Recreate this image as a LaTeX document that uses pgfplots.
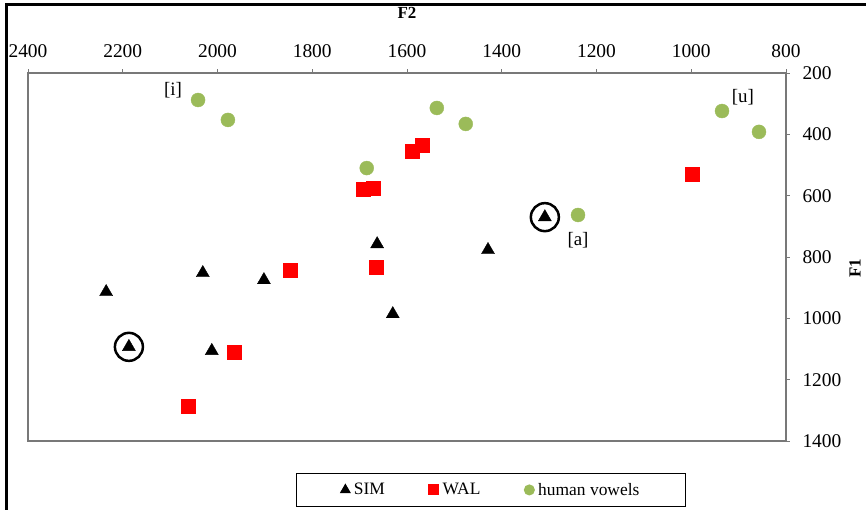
\documentclass[border=0pt]{standalone}
\usepackage{fontspec}
\setmainfont{Liberation Serif}
\usepackage{pgfplots}
\pgfplotsset{compat=1.18}
\definecolor{hgreen}{RGB}{155,187,89}
\definecolor{axgray}{RGB}{120,120,120}
\pgfplotsset{lgimg/.style={legend image code/.code={\draw[mark repeat=2,mark phase=2,##1,mark options={scale=0.7}] plot coordinates {(0bp,0bp) (4bp,0bp) (8bp,0bp)};}}}
\begin{document}
\begin{tikzpicture}
\path[use as bounding box] (0,0) rectangle (866bp,510bp);
\draw[line width=3bp] (6bp,-5bp) -- (6bp,505bp) -- (880bp,505bp);
\begin{axis}[
 at={(28bp,69bp)}, anchor=south west,
 scale only axis, width=758bp, height=368bp,
 xmin=800, xmax=2400, ymin=200, ymax=1400,
 x dir=reverse, y dir=reverse,
 xtick={800,1000,...,2400}, ytick={200,400,...,1400},
 xtick pos=right, xticklabel pos=right,
 ytick pos=right, yticklabel pos=right,
 tick align=outside, major tick length=4bp,
 axis line style={axgray, line width=1.2bp},
 tick style={axgray, line width=0.8bp},
 /pgf/number format/assume math mode=true,
 /pgf/number format/1000 sep={},
 ticklabel style={font=\fontsize{19.5}{19.5}\selectfont},
 xticklabel style={yshift=8bp},
 yticklabel style={xshift=9bp},
 xlabel={\textbf{F2}}, ylabel={\textbf{F1}},
 label style={font=\fontsize{17}{17}\selectfont},
 xlabel style={at={(axis description cs:0.5,1.163)}, anchor=center},
 ylabel style={at={(axis description cs:1.091,0.47)}, anchor=center},
 legend columns=3,
 legend cell align=left,
 legend style={at={(axis description cs:0.611,-0.133)}, anchor=center, draw=black, line width=1.2bp,
   font=\fontsize{17.5}{18}\selectfont, inner xsep=44bp, inner ysep=8bp,
   /tikz/every even column/.append style={column sep=42bp},
   /tikz/every odd column/.append style={column sep=2bp}},
]
\addplot[only marks, mark=triangle*, mark size=7.5bp, black, lgimg] coordinates {
(2235,914) (2031,852) (1902,875) (1663,758) (1630,986) (1429,777) (2012,1106) (2187,1093) (1309,670)};
\addlegendentry{SIM}
\addplot[only marks, mark=square*, mark size=7bp, red, draw=red, fill=red, lgimg] coordinates {
(1847,842) (1965,1110) (2062,1286) (1568,435) (1590,454) (1693,578) (1672,575) (1666,833) (999,529)};
\addlegendentry{WAL}
\addplot[only marks, mark=*, mark size=7bp, hgreen, draw=hgreen, fill=hgreen, lgimg] coordinates {
(2041,288) (1978,353) (1537,314) (1476,366) (1685,510) (1239,663) (935,324) (857,392)};
\addlegendentry{human vowels}
\addplot[only marks, mark=o, mark size=14bp, black, mark options={line width=2.5bp}, forget plot] coordinates {
(2187,1093) (1309,670)};
\node[font=\fontsize{19}{19}\selectfont] at (axis cs:2094,256) {[i]};
\node[font=\fontsize{19}{19}\selectfont] at (axis cs:891,278) {[u]};
\node[font=\fontsize{19}{19}\selectfont] at (axis cs:1239,746) {[a]};
\end{axis}
\end{tikzpicture}
\end{document}
